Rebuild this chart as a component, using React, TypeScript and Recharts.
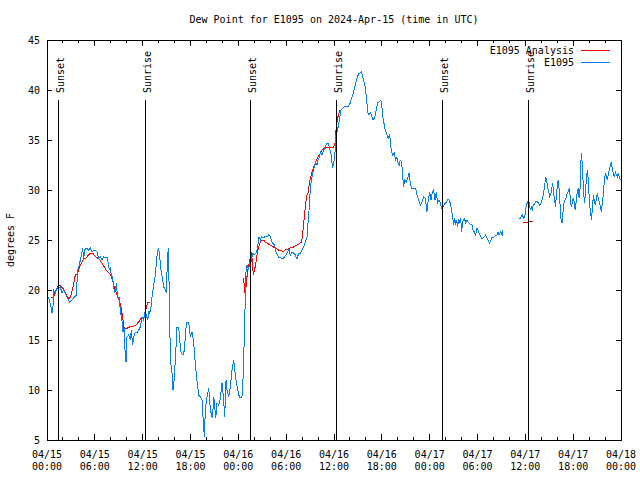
import { LineChart, Line, XAxis, YAxis, ReferenceLine, ReferenceArea } from "recharts";

// hours since 2024-04-15 00:00 UTC, dew point in degrees F
const e1095A: [number, number][] = [
  [0.2, 19.3], [0.5, 18.3], [0.62, 17.7], [0.75, 18.3], [0.83, 20.0], [1.04, 19.7], [1.25, 20.2], [1.67, 20.3],
  [1.88, 19.7], [2.09, 20.0], [2.3, 19.7], [2.5, 19.3], [2.84, 18.8], [3.13, 19.0], [3.34, 19.2], [3.68, 19.5],
  [3.84, 22.0], [4.0, 22.3], [4.18, 23.0], [4.39, 23.8], [4.47, 24.2], [4.6, 23.0], [4.72, 24.0], [4.93, 24.2],
  [5.22, 24.0], [5.43, 24.2], [5.64, 23.8], [5.85, 24.0], [6.06, 24.0], [6.27, 23.8], [6.48, 23.2], [6.69, 23.3],
  [6.9, 23.0], [7.1, 23.3], [7.31, 23.2], [7.52, 23.3], [7.65, 22.8], [7.82, 22.0], [7.94, 22.3], [8.07, 21.5],
  [8.23, 21.2], [8.36, 20.3], [8.48, 19.7], [8.61, 20.0], [8.69, 20.7], [8.86, 19.3], [9.07, 19.3], [9.19, 18.0],
  [9.4, 17.0], [9.53, 15.8], [9.66, 16.2], [9.78, 14.0], [9.91, 12.8], [10.03, 15.3], [10.24, 15.5], [10.45, 15.0],
  [10.58, 16.0], [10.74, 14.5], [10.87, 15.3], [11.08, 15.8], [11.29, 15.7], [11.5, 16.0], [11.71, 16.3],
  [11.92, 17.3], [12.13, 17.0], [12.25, 17.7], [12.46, 17.5], [12.63, 17.0], [12.76, 17.8], [12.88, 17.7],
  [13.05, 18.3], [13.17, 19.3], [13.38, 20.5], [13.59, 21.5], [13.72, 22.7], [13.84, 23.8], [14.01, 24.2],
  [14.14, 23.3], [14.3, 22.0], [14.47, 21.2], [14.64, 20.3], [14.85, 20.0], [14.97, 19.7], [15.1, 23.0],
  [15.22, 24.2], [15.31, 20.7], [15.39, 16.3], [15.52, 12.7], [15.68, 11.7], [15.81, 10.0], [15.94, 11.0],
  [16.1, 13.0], [16.31, 16.3], [16.52, 16.3], [16.65, 15.0], [16.82, 13.7], [17.07, 13.5], [17.24, 14.0],
  [17.4, 16.0], [17.57, 16.8], [17.78, 16.7], [17.99, 15.3], [18.2, 15.8], [18.4, 14.7], [18.6, 12.7],
  [18.8, 11.0], [19.03, 9.5], [19.24, 9.3], [19.45, 9.0], [19.57, 7.3], [19.74, 5.3], [19.87, 8.2], [20.08, 9.3],
  [20.29, 10.2], [20.41, 8.7], [20.58, 7.7], [20.75, 7.2], [20.92, 9.3], [21.04, 8.3], [21.17, 7.2], [21.33, 8.7],
  [21.54, 8.5], [21.75, 9.2], [21.96, 10.7], [22.16, 9.0], [22.29, 7.3], [22.46, 11.0], [22.58, 10.0],
  [22.79, 9.3], [23.0, 10.3], [23.21, 12.0], [23.42, 13.0], [23.58, 11.8], [23.75, 10.7], [23.92, 10.0],
  [24.13, 9.3], [24.33, 9.2], [24.5, 9.5], [24.67, 12.7], [24.75, 15.7],
];

const e1095B: [number, number][] = [
  [24.87, 19.0], [24.96, 21.8], [25.08, 22.5], [25.29, 22.0], [25.42, 22.7], [25.58, 22.8], [25.83, 23.7],
  [26.0, 23.5], [26.25, 23.7], [26.42, 24.3], [26.59, 25.3], [26.76, 25.0], [26.92, 25.3], [27.17, 25.2],
  [27.38, 25.4], [27.59, 25.3], [27.8, 25.5], [28.0, 25.4], [28.13, 25.0], [28.3, 24.7], [28.55, 24.5],
  [28.76, 23.7], [29.05, 23.3], [29.35, 23.2], [29.69, 23.2], [29.98, 23.5], [30.19, 23.8], [30.36, 24.1],
  [30.52, 23.5], [30.73, 23.8], [30.94, 23.7], [31.15, 23.5], [31.36, 23.1], [31.57, 23.7], [31.78, 23.7],
  [31.99, 24.0], [32.2, 24.3], [32.41, 24.8], [32.62, 25.3], [32.74, 26.7], [32.87, 28.0], [33.0, 29.7],
  [33.12, 30.7], [33.25, 31.3], [33.37, 31.8], [33.54, 32.3], [33.71, 32.8], [33.87, 32.5], [34.0, 33.0],
  [34.17, 33.3], [34.29, 33.8], [34.5, 33.5], [34.71, 34.0], [34.92, 34.2], [35.04, 34.7], [35.25, 34.7],
  [35.42, 34.3], [35.54, 33.8], [35.67, 33.5], [35.79, 32.3], [35.92, 32.5], [36.09, 33.3], [36.17, 34.3],
  [36.25, 35.5], [36.33, 35.7], [36.58, 36.5],
];

const e1095C: [number, number][] = [
  [36.87, 38.0], [37.13, 38.2], [37.42, 38.4], [37.83, 38.4], [38.04, 38.7], [38.25, 39.3], [38.46, 39.8],
  [38.67, 40.5], [38.88, 41.2], [39.09, 41.6], [39.3, 41.7], [39.42, 41.8], [39.55, 41.5], [39.71, 41.0],
  [39.88, 40.5], [40.0, 39.7], [40.13, 38.7], [40.26, 37.7], [40.38, 37.5], [40.55, 37.7], [40.71, 37.5],
  [40.88, 37.0], [41.05, 37.2], [41.17, 37.5], [41.3, 38.0], [41.47, 38.7], [41.67, 38.8], [41.88, 39.0],
  [42.01, 38.3], [42.13, 37.3], [42.26, 36.7], [42.43, 36.0], [42.64, 35.5], [42.8, 35.2], [42.97, 35.5],
  [43.06, 35.0], [43.18, 34.0], [43.35, 33.5], [43.55, 33.7], [43.72, 33.0], [43.89, 33.3], [44.01, 32.7],
  [44.18, 32.5], [44.3, 33.0], [44.47, 32.8], [44.6, 31.7], [44.72, 30.3], [44.89, 31.0], [45.06, 30.8],
  [45.27, 31.3], [45.43, 31.7], [45.56, 30.7], [45.73, 30.2], [45.98, 30.2], [46.23, 30.2], [46.4, 29.5],
  [46.61, 29.0], [46.82, 28.5], [47.03, 28.8], [47.24, 29.3], [47.45, 29.2], [47.66, 27.8], [47.78, 28.7],
  [47.99, 29.8], [48.16, 29.0], [48.33, 29.7], [48.5, 30.0], [48.67, 29.0], [48.83, 29.8], [49.0, 28.7],
  [49.17, 29.0], [49.33, 28.7], [49.58, 28.0],
];

const e1095D: [number, number][] = [
  [49.67, 28.3], [49.84, 28.6], [50.09, 28.8], [50.3, 29.1], [50.51, 28.9], [50.68, 28.3], [50.8, 27.7],
  [50.93, 27.0], [51.01, 26.5], [51.14, 27.2], [51.26, 26.5], [51.39, 27.0], [51.51, 26.3], [51.64, 27.1],
  [51.76, 26.7], [51.89, 27.2], [52.01, 25.8], [52.14, 26.8], [52.26, 27.0], [52.39, 27.1], [52.51, 26.7],
  [52.68, 27.0], [52.89, 26.7], [53.1, 26.6], [53.31, 26.5], [53.43, 26.0], [53.6, 25.8], [53.77, 25.5],
  [53.93, 26.2], [54.06, 26.0], [54.18, 25.7], [54.35, 25.4], [54.52, 25.2], [54.68, 25.2], [54.85, 25.3],
  [55.02, 25.5], [55.19, 25.2], [55.36, 24.9], [55.52, 24.7], [55.69, 25.0], [55.82, 25.3], [56.03, 25.3],
  [56.24, 25.4], [56.44, 25.5], [56.57, 25.8], [56.7, 25.5], [56.86, 25.8], [56.99, 25.6], [57.11, 25.8],
  [57.2, 25.4],
];

const e1095E: [number, number][] = [
  [59.29, 27.1], [59.46, 27.3], [59.62, 27.5], [59.79, 27.2], [59.95, 27.4], [60.12, 28.5], [60.29, 28.8],
  [60.41, 28.9], [60.54, 28.5], [60.62, 28.0], [60.75, 28.3], [60.87, 28.0], [61.0, 28.5], [61.17, 28.6],
  [61.29, 28.8], [61.46, 28.9], [61.62, 28.7], [61.79, 28.5], [61.96, 28.7], [62.13, 29.1], [62.29, 29.7],
  [62.41, 30.3], [62.54, 31.3], [62.67, 31.0], [62.79, 30.2], [62.92, 30.0], [63.04, 29.3], [63.17, 29.5],
  [63.29, 30.0], [63.42, 30.7], [63.54, 29.8], [63.67, 29.0], [63.79, 28.3], [63.87, 29.3], [64.0, 30.3],
  [64.12, 31.0], [64.25, 30.0], [64.37, 28.3], [64.5, 26.8], [64.62, 26.8], [64.75, 28.0], [64.87, 28.8],
  [65.0, 29.0], [65.12, 29.2], [65.25, 29.7], [65.38, 29.8], [65.5, 30.2], [65.63, 29.3], [65.75, 28.3],
  [65.88, 28.7], [66.0, 29.2], [66.13, 28.8], [66.25, 28.0], [66.38, 28.8], [66.5, 29.7], [66.63, 30.2],
  [66.75, 29.2], [66.88, 30.3], [66.96, 32.7], [67.04, 33.7], [67.17, 32.3], [67.29, 30.0], [67.42, 28.7],
  [67.54, 29.7], [67.67, 31.3], [67.79, 32.0], [67.92, 30.7], [68.04, 28.7], [68.17, 27.8], [68.3, 27.0],
  [68.42, 28.3], [68.55, 29.5], [68.67, 28.8], [68.8, 28.5], [68.92, 29.3], [69.05, 29.7], [69.17, 29.0],
  [69.3, 28.8], [69.42, 28.3], [69.55, 27.8], [69.67, 28.8], [69.8, 29.7], [69.92, 31.0], [70.05, 31.7],
  [70.17, 31.3], [70.3, 31.0], [70.42, 31.7], [70.55, 32.0], [70.67, 32.5], [70.8, 32.8], [70.92, 32.0],
  [71.05, 31.7], [71.17, 31.3], [71.3, 31.8], [71.42, 31.5], [71.55, 31.3], [71.67, 31.7], [71.8, 31.2],
  [71.92, 31.0],
];

const analysisA: [number, number][] = [
  [0.5, 19.3], [0.83, 19.3], [1.0, 19.8], [1.25, 20.1], [1.46, 20.5], [1.67, 20.5], [1.84, 20.3], [2.09, 20.1],
  [2.25, 19.8], [2.42, 19.5], [2.59, 19.3], [2.76, 19.1], [2.92, 19.3], [3.09, 19.7], [3.26, 20.3], [3.43, 21.0],
  [3.55, 21.5], [3.76, 21.6], [3.97, 22.0], [4.18, 22.5], [4.39, 22.8], [4.6, 23.1], [4.89, 23.2], [5.1, 23.4],
  [5.31, 23.6], [5.52, 23.7], [5.72, 23.7], [5.93, 23.5], [6.14, 23.3], [6.35, 23.2], [6.56, 23.1], [6.77, 22.8],
  [6.98, 22.6], [7.19, 22.3], [7.4, 22.0], [7.61, 21.8], [7.81, 21.7], [8.02, 21.4], [8.23, 21.0], [8.44, 20.3],
  [8.65, 19.8], [8.86, 19.3], [9.07, 19.0], [9.28, 18.3], [9.4, 17.7], [9.53, 17.0], [9.61, 16.3], [9.82, 16.2],
  [10.11, 16.2], [10.36, 16.3], [10.61, 16.4], [10.87, 16.4], [11.16, 16.5], [11.37, 16.7], [11.58, 16.9],
  [11.79, 17.2], [12.0, 17.3], [12.2, 17.3], [12.33, 17.8], [12.46, 18.3], [12.62, 18.7], [12.83, 18.8],
  [12.96, 18.8],
];

const analysisB: [number, number][] = [
  [24.67, 21.2], [24.79, 19.7], [24.96, 20.3], [25.08, 21.3], [25.25, 22.3], [25.42, 22.8], [25.58, 23.8],
  [25.75, 23.0], [25.88, 21.5], [26.04, 22.0], [26.21, 22.8], [26.38, 23.7], [26.54, 24.3], [26.76, 24.8],
  [26.96, 25.0], [27.17, 25.0], [27.38, 24.8], [27.59, 24.7], [27.8, 24.6], [28.0, 24.5], [28.21, 24.4],
  [28.42, 24.3], [28.63, 24.3], [28.84, 24.1], [29.05, 24.0], [29.26, 24.0], [29.47, 23.9], [29.69, 23.9],
  [29.89, 24.0], [30.1, 24.1], [30.31, 24.1], [30.52, 24.2], [30.73, 24.3], [30.94, 24.3], [31.15, 24.4],
  [31.36, 24.5], [31.57, 24.6], [31.78, 24.7], [31.95, 24.8], [32.07, 25.7], [32.2, 26.7], [32.33, 27.7],
  [32.45, 28.7], [32.62, 29.5], [32.79, 29.8], [32.91, 30.7], [33.04, 31.2], [33.21, 31.7], [33.37, 32.1],
  [33.54, 32.5], [33.71, 32.8], [33.87, 33.1], [34.08, 33.4], [34.29, 33.7], [34.5, 34.0], [34.71, 34.2],
  [34.92, 34.3], [35.13, 34.3], [35.33, 34.3], [35.54, 34.3], [35.75, 34.3], [35.96, 34.3], [36.13, 34.7],
  [36.21, 35.7], [36.29, 36.3], [36.42, 37.0], [36.54, 37.5], [36.67, 37.8], [36.79, 38.0], [36.92, 38.0],
];

const analysisC: [number, number][] = [
  [59.7, 26.75], [60.35, 26.75], [60.4, 26.85], [60.95, 26.85],
];

const sunHours = [1.45, 12.37, 25.54, 36.33, 49.62, 60.41];
const sunLabels = ["Sunset", "Sunrise", "Sunset", "Sunrise", "Sunset", "Sunrise"];

const xTicks = [0, 2, 4, 6, 8, 10, 12, 14, 16, 18, 20, 22, 24, 26, 28, 30, 32, 34, 36, 38, 40, 42, 44, 46, 48, 50, 52, 54, 56, 58, 60, 62, 64, 66, 68, 70, 72];
const xTickDays = ["04/15", "04/15", "04/15", "04/15", "04/16", "04/16", "04/16", "04/16", "04/17", "04/17", "04/17", "04/17", "04/18"];
const xTickTimes = ["00:00", "06:00", "12:00", "18:00", "00:00", "06:00", "12:00", "18:00", "00:00", "06:00", "12:00", "18:00", "00:00"];
const yTicks = [5, 10, 15, 20, 25, 30, 35, 40, 45];

const FONT = "'DejaVu Sans Mono', 'Liberation Mono', monospace";
const PLOT_W = 574;
const PLOT_H = 400;
const RED = "#ff0000";
const BLUE = "#0080ff";

// join runs of readings, with a null point between runs so the line breaks
function joinRuns(runs: [number, number][][]) {
  const out: { h: number; v: number | null }[] = [];
  runs.forEach((run, i) => {
    if (i > 0) out.push({ h: run[0][0], v: null });
    run.forEach(([h, v]) => out.push({ h, v }));
  });
  return out;
}

const e1095Data = joinRuns([[...e1095A, ...e1095B, ...e1095C, ...e1095D], e1095E]);
const analysisData = joinRuns([analysisA, analysisB, analysisC]);

function XTick({ x, y, payload }: any) {
  const major = payload.value % 6 === 0;
  const len = major ? 6 : 3;
  const i = payload.value / 6;
  return (
    <g>
      <line x1={x} x2={x} y1={y} y2={y - len} stroke="#000" shapeRendering="crispEdges" />
      <line x1={x} x2={x} y1={y - PLOT_H} y2={y - PLOT_H + len} stroke="#000" shapeRendering="crispEdges" />
      {major && (
        <text x={x} y={y + 18} textAnchor="middle" fontFamily={FONT} fontSize={10} fill="#000">
          {xTickDays[i]}
        </text>
      )}
      {major && (
        <text x={x} y={y + 30} textAnchor="middle" fontFamily={FONT} fontSize={10} fill="#000">
          {xTickTimes[i]}
        </text>
      )}
    </g>
  );
}

function YTick({ x, y, payload }: any) {
  return (
    <g>
      <line x1={x} x2={x + 5} y1={y} y2={y} stroke="#000" shapeRendering="crispEdges" />
      <line x1={x + PLOT_W - 5} x2={x + PLOT_W} y1={y} y2={y} stroke="#000" shapeRendering="crispEdges" />
      <text x={x - 7} y={y + 3.5} textAnchor="end" fontFamily={FONT} fontSize={10} fill="#000">
        {payload.value}
      </text>
    </g>
  );
}

function SunLabel({ viewBox, value }: any) {
  const x = viewBox.x + 5;
  const y = viewBox.y - 7;
  return (
    <text transform={`translate(${x},${y}) rotate(-90)`} fontFamily={FONT} fontSize={10} fill="#000">
      {value}
    </text>
  );
}

export default function App() {
  return (
    <div style={{ position: "absolute", left: 0, top: 0, width: 640, height: 480, background: "#fff" }}>
      <LineChart width={640} height={480} margin={{ top: 40, right: 19, bottom: 0, left: 0 }}>
        <XAxis
          type="number"
          dataKey="h"
          domain={[0, 72]}
          ticks={xTicks}
          interval={0}
          allowDataOverflow
          axisLine={false}
          tickLine={false}
          tickSize={0}
          tickMargin={0}
          height={40}
          tick={<XTick />}
        />
        <YAxis
          type="number"
          domain={[5, 45]}
          ticks={yTicks}
          interval={0}
          allowDataOverflow
          axisLine={false}
          tickLine={false}
          tickSize={0}
          tickMargin={0}
          width={47}
          tick={<YTick />}
        />
        <ReferenceArea x1={0} x2={72} y1={5} y2={45} fill="none" stroke="#000" strokeWidth={1} shapeRendering="crispEdges" />
        <Line
          data={analysisData}
          dataKey="v"
          type="linear"
          stroke={RED}
          strokeWidth={1}
          dot={false}
          activeDot={false}
          shapeRendering="crispEdges"
          isAnimationActive={false}
        />
        <Line
          data={e1095Data}
          dataKey="v"
          type="linear"
          stroke={BLUE}
          strokeWidth={1}
          dot={false}
          activeDot={false}
          shapeRendering="crispEdges"
          isAnimationActive={false}
        />
        {sunHours.map((h, i) => (
          <ReferenceLine
            key={i}
            segment={[{ x: h, y: 5 }, { x: h, y: 39 }]}
            stroke="#000"
            strokeWidth={1}
            shapeRendering="crispEdges"
            label={{ value: sunLabels[i], content: SunLabel }}
          />
        ))}
      </LineChart>
      <svg width={640} height={480} style={{ position: "absolute", left: 0, top: 0, pointerEvents: "none" }}>
        <text x={334} y={23} textAnchor="middle" fontFamily={FONT} fontSize={10} fill="#000">
          Dew Point for E1095 on 2024-Apr-15 (time in UTC)
        </text>
        <text transform="translate(14,240) rotate(-90)" textAnchor="middle" fontFamily={FONT} fontSize={10} fill="#000">
          degrees F
        </text>
        <text x={574} y={53.5} textAnchor="end" fontFamily={FONT} fontSize={10} fill="#000">
          E1095 Analysis
        </text>
        <line x1={581} x2={610} y1={50} y2={50} stroke={RED} shapeRendering="crispEdges" />
        <text x={574} y={65.5} textAnchor="end" fontFamily={FONT} fontSize={10} fill="#000">
          E1095
        </text>
        <line x1={581} x2={610} y1={62} y2={62} stroke={BLUE} shapeRendering="crispEdges" />
      </svg>
    </div>
  );
}
